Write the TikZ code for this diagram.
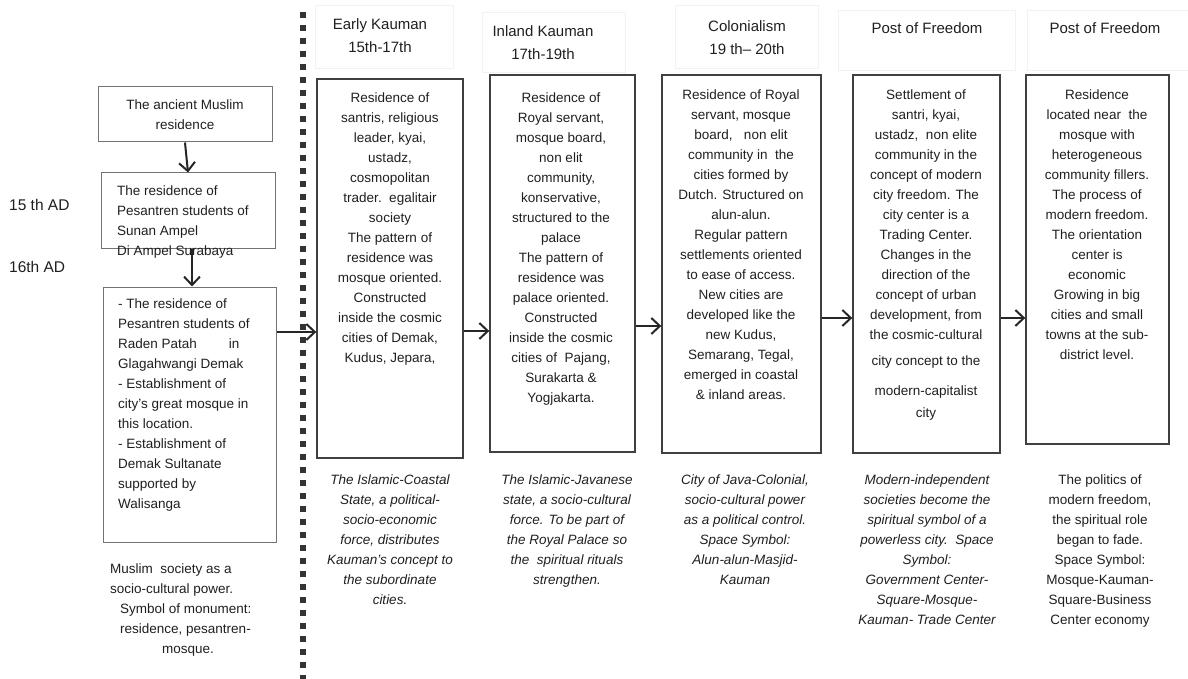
\documentclass[tikz,border=0pt]{standalone}
\usepackage{fontspec}
\setmainfont{Liberation Sans}
\usetikzlibrary{arrows.meta}
\begin{document}
\begin{tikzpicture}[x=1pt,y=-1pt,
  every node/.style={inner sep=0pt, text=black!88, font=\fontsize{13.5}{20}\selectfont},
  box/.style={draw=black!75, line width=1.4pt, rectangle},
  lbox/.style={draw=black!55, line width=1pt, rectangle},
  hbox/.style={draw=black!5, line width=0.6pt, rectangle},
  body/.style={align=center, anchor=north},
  lbody/.style={align=left, anchor=north west},
  captxt/.style={align=center, anchor=north, font=\fontsize{13.5}{20}\selectfont\itshape},
  capup/.style={align=center, anchor=north},
  head/.style={align=center, anchor=north, font=\fontsize{15}{23}\selectfont},
  datetxt/.style={anchor=west, font=\fontsize{15.5}{20}\selectfont},
  arr/.style={line width=2pt, draw=black!85, -{Straight Barb[length=8.5pt,width=16pt,line width=2pt]}}
]
\useasboundingbox (0,0) rectangle (1188,679);

% dotted separator
\draw[line width=6pt, black!80, dash pattern=on 6pt off 7pt] (303,12) -- (303,679);

% header frames
\node[hbox, minimum width=138pt, minimum height=63pt] (h1) at (384,36.5) {};
\node[hbox, minimum width=143pt, minimum height=60pt] (h2) at (553.5,42) {};
\node[hbox, minimum width=143pt, minimum height=63pt] (h3) at (746.5,36.5) {};
\node[hbox, minimum width=177pt, minimum height=60pt] (h4) at (926.5,40) {};
\node[hbox, minimum width=161pt, minimum height=60pt] (h5) at (1107.5,40) {};

\node[head] (t1) at (380,12.8) {\strut Early Kauman\\15th-17th};
\node[head] (t2) at (543,19.8) {\strut Inland Kauman\\17th-19th};
\node[head] (t3) at (747,14.8) {\strut Colonialism\\19 th-- 20th};
\node[head] (t4) at (927,16.8) {\strut Post of Freedom};
\node[head] (t5) at (1105,16.8) {\strut Post of Freedom};

% left column
\node[lbox, minimum width=174pt, minimum height=55pt] (anc) at (185,114.5) {};
\node[lbox, minimum width=174pt, minimum height=75pt] (amp) at (188,210.5) {};
\node[lbox, minimum width=173pt, minimum height=255pt] (rad) at (189.5,414.5) {};

\node[body] (anct) at (185,95.5) {\strut The ancient Muslim\\residence};
\node[lbody] (ampt) at (117,181.5) {\strut The residence of\\Pesantren students of\\Sunan Ampel\\Di Ampel Surabaya};
\node[lbody] (radt) at (118,294.5) {\strut - The residence of\\Pesantren students of\\Raden Patah\hspace{32pt}in\\Glagahwangi Demak\\- Establishment of\\city’s great mosque in\\this location.\\- Establishment of\\Demak Sultanate\\supported by\\Walisanga};

\node[datetxt] (d15) at (9,205) {15 th AD};
\node[datetxt] (d16) at (9,267) {16th AD};

\node[lbody] (lcap) at (110,559.5) {\strut Muslim\ \ society as a\\socio-cultural power.\\\hspace*{10pt}Symbol of monument:\\\hspace*{10pt}residence, pesantren-\\\hspace*{52pt}mosque.};

\draw[arr] (anc.south) -- (amp.north);
\draw[arr] ([xshift=4pt]amp.south) -- ([xshift=2.5pt]rad.north);

% main boxes
\node[box, minimum width=146pt, minimum height=379pt] (early) at (390,268.5) {};
\node[box, minimum width=145pt, minimum height=377pt] (inland) at (562.5,263.5) {};
\node[box, minimum width=159pt, minimum height=378pt] (colon) at (741.5,264) {};
\node[box, minimum width=147pt, minimum height=378pt] (post1) at (926.5,264) {};
\node[box, minimum width=143pt, minimum height=369pt] (post2) at (1097.5,259.5) {};

\node[body] (earlyt) at (390,88.5) {\strut Residence of\\santris, religious\\leader, kyai,\\ustadz,\\cosmopolitan\\trader.\ \ egalitair\\society\\The pattern of\\residence was\\mosque oriented.\\Constructed\\inside the cosmic\\cities of Demak,\\Kudus, Jepara,};
\node[body] (inlandt) at (561,88.5) {\strut Residence of\\Royal servant,\\mosque board,\\non elit\\community,\\konservative,\\structured to the\\palace\\The pattern of\\residence was\\palace oriented.\\Constructed\\inside the cosmic\\cities of\ \ Pajang,\\Surakarta \&\\Yogjakarta.};
\node[body] (colont) at (741,85.5) {\strut Residence of Royal\\servant, mosque\\board,\ \ \ non elit\\community in\ \ the\\cities formed by\\Dutch. Structured on\\alun-alun.\\Regular pattern\\settlements oriented\\to ease of access.\\New cities are\\developed like the\\new Kudus,\\Semarang, Tegal,\\emerged in coastal\\\& inland areas.};
\node[body] (post1t) at (926,85.5) {\strut Settlement of\\santri, kyai,\\ustadz,\ \ non elite\\community in the\\concept of modern\\city freedom. The\\city center is a\\Trading Center.\\Changes in the\\direction of the\\concept of urban\\development, from\\the cosmic-cultural\\[6pt]city concept to the\\[10pt]modern-capitalist\\[2pt]city};
\node[body] (post2t) at (1097,85.5) {\strut Residence\\located near\ \ the\\mosque with\\heterogeneous\\community fillers.\\The process of\\modern freedom.\\The orientation\\center is\\economic\\Growing in big\\cities and small\\towns at the sub-\\district level.};

% captions
\node[captxt] (c1) at (390,470) {\strut The Islamic-Coastal\\State, a political-\\socio-economic\\force, distributes\\Kauman’s concept to\\the subordinate\\cities.};
\node[captxt] (c2) at (567,470) {\strut The Islamic-Javanese\\state, a socio-cultural\\force. To be part of\\the Royal Palace so\\the\ \ spiritual rituals\\strengthen.};
\node[captxt] (c3) at (745,470) {\strut City of Java-Colonial,\\socio-cultural power\\as a political control.\\Space Symbol:\\Alun-alun-Masjid-\\Kauman};
\node[captxt] (c4) at (927,470) {\strut Modern-independent\\societies become the\\spiritual symbol of a\\powerless city.\ \ Space\\Symbol:\\Government Center-\\Square-Mosque-\\Kauman- Trade Center};
\node[capup] (c5) at (1100,470) {\strut The politics of\\modern freedom,\\the spiritual role\\began to fade.\\Space Symbol:\\Mosque-Kauman-\\Square-Business\\Center economy};

% arrows between stages
\coordinate (ya) at (0,332);
\coordinate (yb) at (0,331);
\coordinate (yc) at (0,326);
\coordinate (yd) at (0,318);
\draw[arr] (rad.east |- ya) -- (early.west |- ya);
\draw[arr] (early.east |- yb) -- (inland.west |- yb);
\draw[arr] (inland.east |- yc) -- (colon.west |- yc);
\draw[arr] (colon.east |- yd) -- (post1.west |- yd);
\draw[arr] (post1.east |- yd) -- (post2.west |- yd);
\end{tikzpicture}
\end{document}
